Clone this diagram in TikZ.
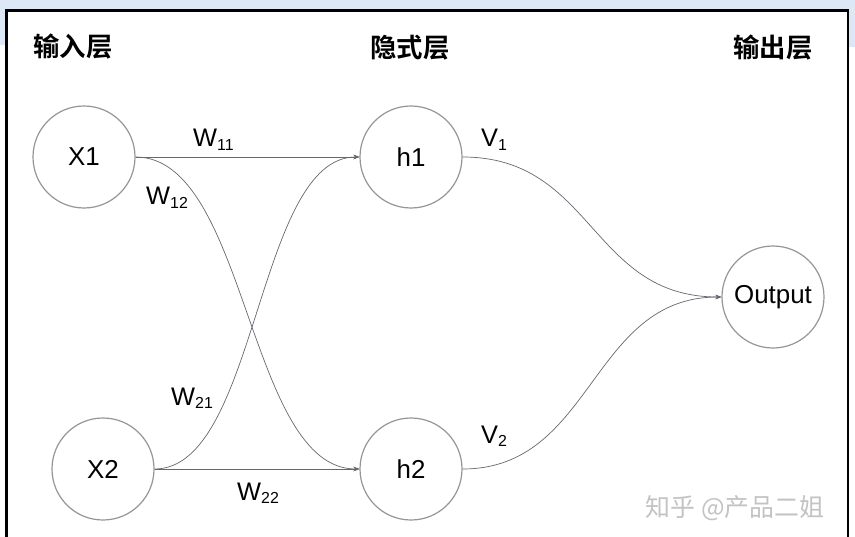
\documentclass[tikz,border=0pt]{standalone}
\usepackage{fontspec}
\setmainfont{Liberation Sans}
\newfontfamily\cjkfont{Noto Sans CJK SC}
\newfontfamily\cjkbold{Noto Sans CJK SC Bold}
\usetikzlibrary{arrows.meta}
\definecolor{bgblue}{RGB}{220,232,245}
\definecolor{circgray}{RGB}{150,150,150}
\definecolor{edgegray}{RGB}{100,104,112}
\definecolor{wmgray}{RGB}{195,195,195}
\newcommand{\wsub}[2]{#1{\fontsize{16}{16}\selectfont\raisebox{-3.5bp}{#2}}}
\tikzset{
  neuron/.style={circle, draw=circgray, line width=1.2bp, minimum size=102bp, inner sep=0pt, font=\fontsize{26}{28}\selectfont},
  conn/.style={draw=edgegray, line width=0.7bp, -{Stealth[length=6bp,width=4.5bp]}},
  wlabel/.style={anchor=base west, inner sep=0pt, font=\fontsize{25.5}{28}\selectfont},
  title/.style={inner sep=0pt, font=\fontsize{26.5}{29}\cjkbold},
}
\begin{document}
\begin{tikzpicture}[x=1bp,y=-1bp]
\useasboundingbox (0,0) rectangle (855,537);
\fill[white] (0,0) rectangle (855,537);
\fill[bgblue] (0,0) rectangle (855,9.5);
\fill[bgblue] (0,0) rectangle (5.5,45);
\fill[bgblue] (848,0) rectangle (855,47);
\draw[black, line width=2.6bp] (6.3,537) -- (6.3,10.6) -- (847.8,10.6) -- (847.8,537);

\node[title] (t1) at (73,47) {输入层};
\node[title] (t2) at (410,48) {隐式层};
\node[title] (t3) at (773,48) {输出层};

\node[neuron] (X1) at (84,157) {X1};
\node[neuron] (X2) at (103,469) {X2};
\node[neuron] (h1) at (411,157) {h1};
\node[neuron] (h2) at (411,469) {h2};
\node[neuron] (O) at (773,297) {Output};

\draw[conn] (X1.east) -- (h1.west);
\draw[conn] (X2.east) -- (h2.west);
\draw[conn] (X1.east) .. controls +(112,0) and +(-112,0) .. (h2.west);
\draw[conn] (X2.east) .. controls +(103,0) and +(-103,0) .. (h1.west);
\draw[conn] (h1.east) .. controls +(131,0) and +(-131,0) .. (O.west);
\draw[conn] (h2.east) .. controls +(131,0) and +(-131,0) .. (O.west);

\node[wlabel] (w11) at (193,147) {\wsub{W}{11}};
\node[wlabel] (w12) at (146,205) {\wsub{W}{12}};
\node[wlabel] (w21) at (171,405) {\wsub{W}{21}};
\node[wlabel] (w22) at (237,500) {\wsub{W}{22}};
\node[wlabel] (v1) at (481,147) {\wsub{V}{1}};
\node[wlabel] (v2) at (481,443) {\wsub{V}{2}};

\node[inner sep=0pt, text=wmgray, font=\fontsize{25}{27}\cjkfont] (wm) at (735,508) {知乎 @产品二姐};
\end{tikzpicture}
\end{document}
